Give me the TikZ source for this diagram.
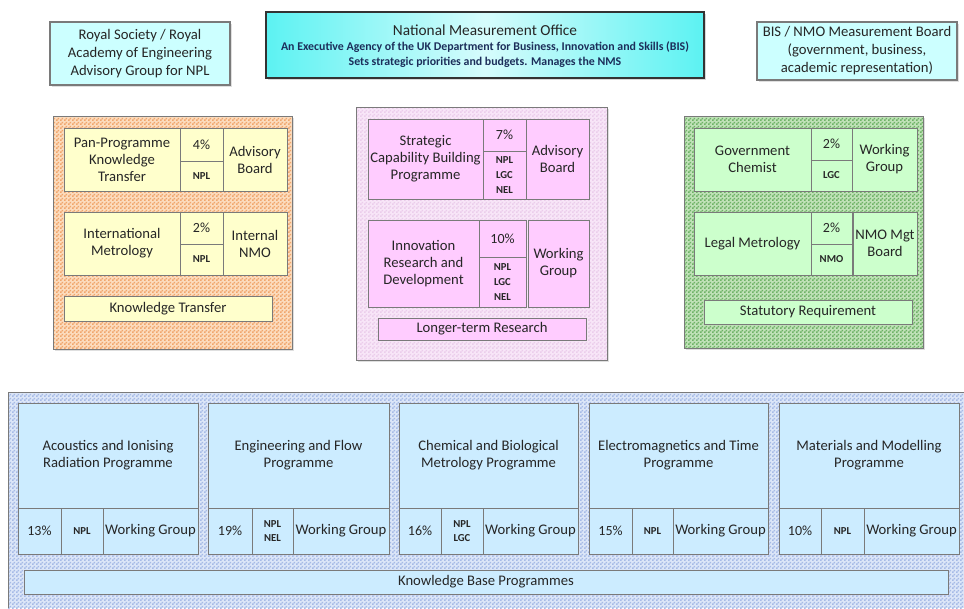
\documentclass[tikz,border=0pt]{standalone}
\usepackage{fontspec}
\setmainfont{Carlito}
\usetikzlibrary{patterns,shadows}
\definecolor{bordergray}{HTML}{7A7A7A}
\definecolor{textc}{HTML}{262626}
\definecolor{sidefill}{HTML}{CCFFFF}
\definecolor{nmocyan}{HTML}{5CF2F2}
\definecolor{nmolight}{HTML}{D6FCFC}
\definecolor{navy}{HTML}{1C2E5A}
\definecolor{yfill}{HTML}{FFFFCC}
\definecolor{pfill}{HTML}{FFCCFF}
\definecolor{gfill}{HTML}{CCFFCC}
\definecolor{bfill}{HTML}{CCECFF}
\definecolor{obase}{HTML}{FCDCBE}
\definecolor{opat}{HTML}{F0A66C}
\definecolor{pbase}{HTML}{F8E6F8}
\definecolor{ppat}{HTML}{EBCDEB}
\definecolor{gbase}{HTML}{C0E2B8}
\definecolor{gpat}{HTML}{6EB266}
\definecolor{bbase}{HTML}{DCE6F8}
\definecolor{bpat}{HTML}{A6BAE6}
\pgfdeclarepatternformonly{checker}{\pgfqpoint{0pt}{0pt}}{\pgfqpoint{3pt}{3pt}}{\pgfqpoint{3pt}{3pt}}{%
  \pgfpathrectangle{\pgfqpoint{0pt}{0pt}}{\pgfqpoint{1.5pt}{1.5pt}}%
  \pgfpathrectangle{\pgfqpoint{1.5pt}{1.5pt}}{\pgfqpoint{1.5pt}{1.5pt}}%
  \pgfusepath{fill}}
\newcommand\cell[7]{%
  \pgfmathsetmacro\cw{(#4-#2)*0.75}%
  \pgfmathsetmacro\ch{(#5-#3)*0.75}%
  \node[#6, minimum width=\cw pt, minimum height=\ch pt] (#1) at ({(#2+#4)/2},{(#3+#5)/2}) {#7};%
}
\newcommand\panel[7]{% x1 y1 x2 y2 base pat name
  \fill[#5, drop shadow={shadow xshift=1.5pt, shadow yshift=-1.5pt, opacity=0.25}] (#1,#2) rectangle (#3,#4);
  \fill[pattern=checker, pattern color=#6] (#1,#2) rectangle (#3,#4);
  \draw[bordergray, line width=0.7pt] (#1,#2) rectangle (#3,#4);
  \coordinate (#7) at ({(#1+#3)/2},{(#2+#4)/2});
}
\tikzset{
  cellbase/.style={draw=bordergray, line width=0.7pt, align=center, inner sep=1pt, text=textc,
    font=\fontsize{11}{12.75}\selectfont,
    drop shadow={shadow xshift=1pt, shadow yshift=-1pt, opacity=0.2}},
  ycell/.style={cellbase, fill=yfill},
  pcell/.style={cellbase, fill=pfill},
  gcell/.style={cellbase, fill=gfill},
  bcell/.style={cellbase, fill=bfill},
  lab/.style={font=\bfseries\fontsize{8}{11}\selectfont},
  pct/.style={font=\fontsize{10.5}{12}\selectfont},
  wg/.style={font=\fontsize{11}{13}\selectfont},
  sidebox/.style={draw=bordergray, line width=0.8pt, fill=sidefill, align=center, text=textc,
    font=\fontsize{11}{13.5}\selectfont,
    drop shadow={shadow xshift=1.5pt, shadow yshift=-1.5pt, opacity=0.25}},
}
\begin{document}
\begin{tikzpicture}[x=0.75pt,y=-0.75pt]
\useasboundingbox (0,0) rectangle (964,608);
\fill[white] (0,0) rectangle (964,608);

% ---- top row ----
\cell{rs}{50}{22}{230}{85}{sidebox}{Royal Society / Royal\\Academy of Engineering\\Advisory Group for NPL}
\cell{bis}{757}{22}{957}{80}{sidebox}{BIS / NMO Measurement Board\\(government, business,\\academic representation)}
\pgfmathsetmacro\cw{(704-266)*0.75}\pgfmathsetmacro\ch{(78-12)*0.75}
\node[draw=black!80, line width=1.2pt, left color=nmocyan, right color=nmocyan, middle color=nmolight,
  minimum width=\cw pt, minimum height=\ch pt, align=center, inner sep=0pt,
  drop shadow={shadow xshift=1.5pt, shadow yshift=-1.5pt, opacity=0.3}] (nmo) at (485,45) {};
\node[text=textc, font=\fontsize{11.5}{13}\selectfont] (nmot) at (485,30) {National Measurement Office};
\node[text=navy, font=\bfseries\fontsize{8.9}{11.3}\selectfont, align=center] (nmos) at (485,55)
  {An Executive Agency of the UK Department for Business, Innovation and Skills (BIS)\\Sets strategic priorities and budgets. Manages the NMS};

% ---- orange panel ----
\panel{53}{116}{292}{349}{obase}{opat}{orp}
\cell{a1m}{64}{128}{180}{191}{ycell}{Pan-Programme\\Knowledge\\Transfer}
\cell{a1p}{180}{128}{223}{161}{ycell,pct}{4\%}
\cell{a1l}{180}{161}{223}{191}{ycell,lab}{NPL}
\cell{a1g}{223}{128}{287}{191}{ycell}{Advisory\\Board}
\cell{a2m}{64}{212}{180}{275}{ycell}{International\\Metrology}
\cell{a2p}{180}{212}{223}{244}{ycell,pct}{2\%}
\cell{a2l}{180}{244}{223}{275}{ycell,lab}{NPL}
\cell{a2g}{223}{212}{287}{275}{ycell}{Internal\\NMO}
\cell{kt}{64}{296}{272}{321}{ycell}{Knowledge Transfer}

% ---- pink panel ----
\panel{356}{107}{607}{360}{pbase}{ppat}{pkp}
\cell{b1m}{368}{119}{483}{199}{pcell}{Strategic\\Capability Building\\Programme}
\cell{b1p}{483}{119}{526}{151}{pcell,pct}{7\%}
\cell{b1l}{483}{151}{526}{199}{pcell,lab}{NPL\\LGC\\NEL}
\cell{b1g}{526}{119}{589}{199}{pcell}{Advisory\\Board}
\cell{b2m}{368}{220}{479}{307}{pcell}{Innovation\\Research and\\Development}
\cell{b2p}{479}{220}{526}{257}{pcell,pct}{10\%}
\cell{b2l}{479}{257}{526}{307}{pcell,lab}{NPL\\LGC\\NEL}
\cell{b2g}{528}{220}{589}{307}{pcell}{Working\\Group}
\cell{ltr}{378}{318}{586}{340}{pcell}{Longer-term Research}

% ---- green panel ----
\panel{684}{116}{923}{348}{gbase}{gpat}{grp}
\cell{c1m}{694}{128}{811}{191}{gcell}{Government\\Chemist}
\cell{c1p}{811}{128}{852}{160}{gcell,pct}{2\%}
\cell{c1l}{811}{160}{852}{191}{gcell,lab}{LGC}
\cell{c1g}{852}{128}{917}{191}{gcell}{Working\\Group}
\cell{c2m}{694}{212}{811}{275}{gcell}{Legal Metrology}
\cell{c2p}{811}{212}{852}{244}{gcell,pct}{2\%}
\cell{c2l}{811}{244}{852}{275}{gcell,lab}{NMO}
\cell{c2g}{853}{212}{917}{275}{gcell}{NMO Mgt\\Board}
\cell{sr}{704}{300}{912}{324}{gcell}{Statutory Requirement}

% ---- bottom panel ----
\fill[bbase] (8,392) rectangle (964,608);
\fill[pattern=checker, pattern color=bpat] (8,392) rectangle (964,608);
\draw[bordergray, line width=0.7pt] (8,608) -- (8,392) -- (964,392);
\coordinate (kbp) at (486,500);

\cell{d1t}{18}{403}{198}{508}{bcell}{Acoustics and Ionising\\Radiation Programme}
\cell{d1p}{18}{508}{61}{554}{bcell,pct}{13\%}
\cell{d1l}{61}{508}{103}{554}{bcell,lab}{NPL}
\cell{d1g}{103}{508}{198}{554}{bcell,wg}{Working Group}

\cell{d2t}{208}{403}{389}{508}{bcell}{Engineering and Flow\\Programme}
\cell{d2p}{208}{508}{252}{554}{bcell,pct}{19\%}
\cell{d2l}{252}{508}{293}{554}{bcell,lab}{NPL\\NEL}
\cell{d2g}{293}{508}{389}{554}{bcell,wg}{Working Group}

\cell{d3t}{399}{403}{578}{508}{bcell}{Chemical and Biological\\Metrology Programme}
\cell{d3p}{399}{508}{441}{554}{bcell,pct}{16\%}
\cell{d3l}{441}{508}{483}{554}{bcell,lab}{NPL\\LGC}
\cell{d3g}{483}{508}{578}{554}{bcell,wg}{Working Group}

\cell{d4t}{589}{403}{768}{508}{bcell}{Electromagnetics and Time\\Programme}
\cell{d4p}{589}{508}{632}{554}{bcell,pct}{15\%}
\cell{d4l}{632}{508}{673}{554}{bcell,lab}{NPL}
\cell{d4g}{673}{508}{768}{554}{bcell,wg}{Working Group}

\cell{d5t}{779}{403}{959}{508}{bcell}{Materials and Modelling\\Programme}
\cell{d5p}{779}{508}{821}{554}{bcell,pct}{10\%}
\cell{d5l}{821}{508}{864}{554}{bcell,lab}{NPL}
\cell{d5g}{864}{508}{959}{554}{bcell,wg}{Working Group}

\cell{kb}{24}{570}{948}{594}{bcell}{Knowledge Base Programmes}
\end{tikzpicture}
\end{document}
